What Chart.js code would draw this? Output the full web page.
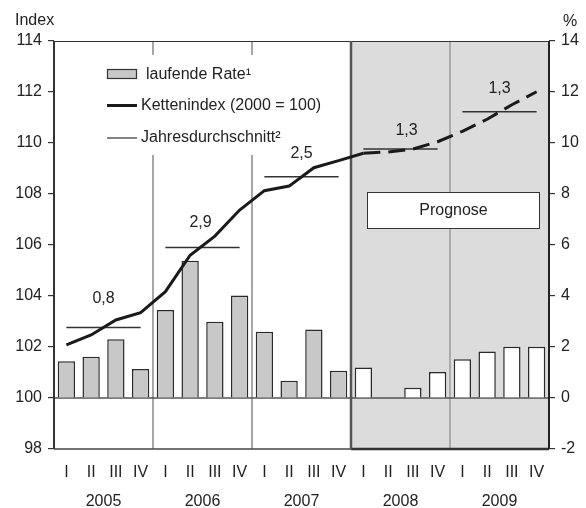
<!DOCTYPE html>
<html>
<head>
<meta charset="utf-8">
<style>
  body { margin: 0; background: #fff; }
  #wrap { width: 586px; height: 508px; position: relative; }
</style>
</head>
<body>
<div id="wrap"><canvas id="chart"></canvas></div>

<script src="https://cdn.jsdelivr.net/npm/chart.js"></script>
<script>
// quarters and years on the x axis
const quarters = ['I', 'II', 'III', 'IV', 'I', 'II', 'III', 'IV', 'I', 'II', 'III', 'IV',
                  'I', 'II', 'III', 'IV', 'I', 'II', 'III', 'IV'];
const years = ['2005', '2006', '2007', '2008', '2009'];

// laufende Rate (right axis, %)
const laufendeRate = [1.44, 1.62, 2.30, 1.14, 3.45, 5.38, 2.99, 4.02, 2.60, 0.68, 2.69, 1.07,
                      1.20, 0, 0.40, 1.02, 1.52, 1.82, 2.01, 2.01];

// Kettenindex 2000 = 100 (left axis)
const kettenindex = [102.08, 102.47, 103.06, 103.35, 104.17, 105.60, 106.35, 107.37,
                     108.13, 108.31, 109.03, 109.31, 109.60, 109.65, 109.76, 110.05,
                     110.46, 110.93, 111.50, 112.01];

// Jahresdurchschnitt, drawn on the index axis, with the printed rate
const jahresIndex = [102.76, 105.90, 108.68, 109.76, 111.23];
const jahresLabels = ['0,8', '2,9', '2,5', '1,3', '1,3'];

// axis ranges
const indexMin = 98, indexMax = 114, rateMin = -2, rateMax = 14, tickStep = 2;
const forecastStart = 12; // first quarter of the Prognose

const FONT = '"Liberation Sans", Arial, Helvetica, sans-serif';
const TXT = '#222';

function yearOf(i) { return Math.floor(i / 4); }

const decorPlugin = {
  id: 'decor',
  beforeDatasetsDraw(chart) {
    const ctx = chart.ctx, a = chart.chartArea;
    const x = chart.scales.x, y1 = chart.scales.y1;
    const edge = i => (x.getPixelForValue(i - 1) + x.getPixelForValue(i)) / 2;
    const fx = edge(forecastStart);
    ctx.save();
    // Prognose shading
    ctx.fillStyle = '#dcdcdc';
    ctx.fillRect(fx, a.top, a.right - fx, a.bottom - a.top);
    // year separators
    for (let yIdx = 1; yIdx < years.length; yIdx++) {
      const px = edge(yIdx * 4);
      if (yIdx * 4 === forecastStart) continue;
      ctx.strokeStyle = yIdx * 4 > forecastStart ? '#7a7a7a' : '#8a8a8a';
      ctx.lineWidth = yIdx * 4 > forecastStart ? 1 : 1.5;
      ctx.beginPath(); ctx.moveTo(px, a.top); ctx.lineTo(px, a.bottom); ctx.stroke();
    }
    // legend box background
    ctx.fillStyle = '#fff';
    ctx.fillRect(100, 55, 245, 100);
    // Prognose box
    ctx.fillStyle = '#fff';
    ctx.fillRect(367, 192, 173, 37);
    ctx.strokeStyle = '#333'; ctx.lineWidth = 1;
    ctx.strokeRect(367.5, 192.5, 172, 36);
    ctx.fillStyle = TXT; ctx.font = '16px ' + FONT;
    ctx.textAlign = 'center'; ctx.textBaseline = 'middle';
    ctx.fillText('Prognose', 453.5, 211);
    // zero line
    const y0 = y1.getPixelForValue(0);
    ctx.strokeStyle = '#555'; ctx.lineWidth = 1.5;
    ctx.beginPath(); ctx.moveTo(a.left, y0); ctx.lineTo(a.right, y0); ctx.stroke();
    // frame
    ctx.strokeStyle = '#333'; ctx.lineWidth = 1;
    ctx.beginPath(); ctx.moveTo(a.left, a.top + 0.5); ctx.lineTo(a.right, a.top + 0.5); ctx.stroke();
    ctx.strokeStyle = '#444'; ctx.lineWidth = 1.5;
    ctx.beginPath(); ctx.moveTo(a.left, a.bottom); ctx.lineTo(fx, a.bottom); ctx.stroke();
    ctx.strokeStyle = '#333'; ctx.lineWidth = 2.5;
    ctx.beginPath(); ctx.moveTo(fx, a.bottom); ctx.lineTo(a.right, a.bottom); ctx.stroke();
    ctx.strokeStyle = '#555'; ctx.lineWidth = 2.5;
    ctx.beginPath(); ctx.moveTo(fx, a.top); ctx.lineTo(fx, a.bottom); ctx.stroke();
    ctx.strokeStyle = '#333'; ctx.lineWidth = 2;
    ctx.beginPath(); ctx.moveTo(a.left, a.top); ctx.lineTo(a.left, a.bottom); ctx.stroke();
    ctx.strokeStyle = '#222';
    ctx.beginPath(); ctx.moveTo(a.right, a.top); ctx.lineTo(a.right, a.bottom); ctx.stroke();
    ctx.restore();
  },
  afterDraw(chart, args, opts) {
    const ctx = chart.ctx, x = chart.scales.x, y = chart.scales.y;
    ctx.save();
    ctx.fillStyle = TXT;
    ctx.font = '16px ' + FONT;
    ctx.textBaseline = 'middle';
    // axis titles
    ctx.textAlign = 'left';
    ctx.fillText('Index', 15, 21);
    ctx.fillText('%', 563, 22);
    // year labels
    ctx.textAlign = 'center';
    years.forEach((yr, k) => {
      const cx = (x.getPixelForValue(k * 4) + x.getPixelForValue(k * 4 + 3)) / 2;
      ctx.fillText(yr, cx, 502);
    });
    // Jahresdurchschnitt labels
    jahresLabels.forEach((lbl, k) => {
      const cx = (x.getPixelForValue(k * 4) + x.getPixelForValue(k * 4 + 3)) / 2;
      const off = opts.labelOffsets[k];
      ctx.fillText(lbl, cx + off[0], y.getPixelForValue(jahresIndex[k]) + off[1]);
    });
    // legend
    ctx.fillStyle = '#c8c8c8';
    ctx.fillRect(107.5, 69.5, 29, 9);
    ctx.strokeStyle = '#333'; ctx.lineWidth = 1.2;
    ctx.strokeRect(107.5, 69.5, 29, 9);
    ctx.strokeStyle = '#1a1a1a'; ctx.lineWidth = 3;
    ctx.beginPath(); ctx.moveTo(107, 105.5); ctx.lineTo(137, 105.5); ctx.stroke();
    ctx.strokeStyle = '#333'; ctx.lineWidth = 1.2;
    ctx.beginPath(); ctx.moveTo(107, 138); ctx.lineTo(137, 138); ctx.stroke();
    ctx.fillStyle = TXT; ctx.textAlign = 'left';
    ctx.fillText('laufende Rate\u00b9', 146, 74.5);
    ctx.fillText('Kettenindex (2000 = 100)', 141, 106);
    ctx.fillText('Jahresdurchschnitt\u00b2', 141, 137.5);
    ctx.restore();
  }
};

new Chart(document.getElementById('chart'), {
  data: {
    labels: quarters,
    datasets: [
      {
        type: 'line',
        label: 'Kettenindex (2000 = 100)',
        data: kettenindex,
        yAxisID: 'y',
        borderColor: '#1a1a1a',
        borderWidth: 3,
        pointRadius: 0,
        tension: 0,
        segment: {
          borderDash: c => c.p0DataIndex >= forecastStart ? [17, 8] : []
        },
        order: 1
      },
      {
        type: 'line',
        label: 'Jahresdurchschnitt',
        data: quarters.map((q, i) => jahresIndex[yearOf(i)]),
        yAxisID: 'y',
        borderColor: '#333',
        borderWidth: 1.5,
        pointRadius: 0,
        segment: {
          borderColor: c => yearOf(c.p0DataIndex) !== yearOf(c.p1DataIndex) ? 'rgba(0,0,0,0)' : '#333'
        },
        order: 2
      },
      {
        type: 'bar',
        label: 'laufende Rate',
        data: laufendeRate,
        yAxisID: 'y1',
        backgroundColor: c => c.dataIndex >= forecastStart ? '#ffffff' : '#c8c8c8',
        borderColor: '#2a2a2a',
        borderWidth: 1.5,
        barPercentage: 0.7,
        categoryPercentage: 1,
        order: 3
      }
    ]
  },
  options: {
    responsive: true,
    maintainAspectRatio: false,
    animation: false,
    layout: { padding: { top: 41, left: 0, right: 0, bottom: 0 } },
    plugins: {
      legend: { display: false },
      tooltip: { enabled: false },
      decor: { labelOffsets: [[0, -29], [-2, -25], [0, -23], [6, -19], [0, -23]] }
    },
    scales: {
      x: {
        offset: true,
        grid: { display: false, drawTicks: false },
        border: { display: false },
        ticks: { color: TXT, font: { family: FONT, size: 16 }, padding: 14, maxRotation: 0, autoSkip: false },
        afterFit: s => { s.height = 59; }
      },
      y: {
        position: 'left',
        min: indexMin, max: indexMax,
        grid: { drawOnChartArea: false, drawTicks: true, tickLength: 6, color: '#333', lineWidth: 1.2 },
        border: { display: false },
        ticks: { stepSize: tickStep, color: TXT, font: { family: FONT, size: 16 }, padding: 6 },
        afterFit: s => { s.width = 54; }
      },
      y1: {
        position: 'right',
        min: rateMin, max: rateMax,
        grid: { drawOnChartArea: false, drawTicks: true, tickLength: 6, color: '#333', lineWidth: 1.2 },
        border: { display: false },
        ticks: { stepSize: tickStep, color: TXT, font: { family: FONT, size: 16 }, padding: 6 },
        afterFit: s => { s.width = 37; }
      }
    }
  },
  plugins: [decorPlugin]
});
</script>
</body>
</html>
